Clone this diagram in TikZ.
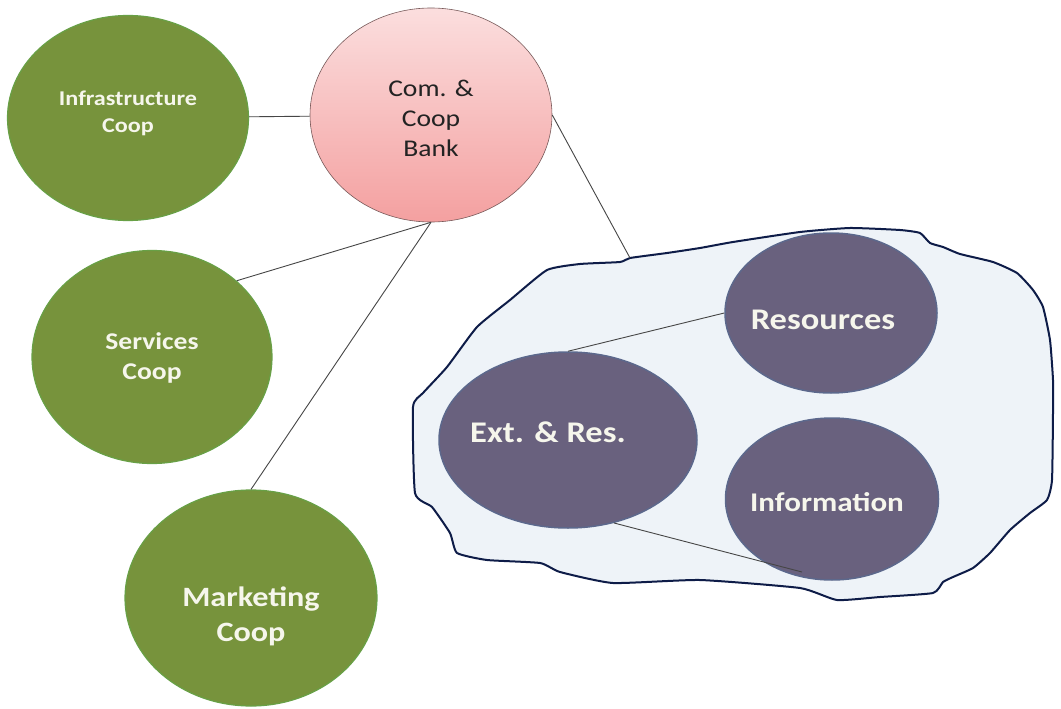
\documentclass[tikz,border=0pt]{standalone}
\usepackage{fontspec}
\setmainfont{Carlito}
\newfontfamily\wfont[FakeStretch=1.15]{Carlito}
\usetikzlibrary{shapes.geometric}
\definecolor{greenfill}{RGB}{119,147,60}
\definecolor{greenline}{RGB}{104,160,70}
\definecolor{pinktop}{RGB}{251,222,222}
\definecolor{pinkbot}{RGB}{244,160,160}
\definecolor{pinkline}{RGB}{120,90,90}
\definecolor{purfill}{RGB}{105,97,126}
\definecolor{purline}{RGB}{92,104,140}
\definecolor{blobfill}{RGB}{238,243,248}
\definecolor{blobline}{RGB}{14,28,72}
\definecolor{conncol}{RGB}{70,70,70}
\definecolor{wtext}{RGB}{246,246,236}
\definecolor{dtext}{RGB}{35,35,35}
\begin{document}
\begin{tikzpicture}[x=1pt,y=-1pt,
  ell/.style={ellipse, inner sep=0pt},
  greenell/.style={ell, fill=greenfill, draw=greenline, line width=1.2pt},
  purell/.style={ell, fill=purfill, draw=purline, line width=1.5pt},
  wtxt/.style={align=center, text=wtext},
  conn/.style={draw=conncol, line width=0.9pt}
]
\useasboundingbox (0,0) rectangle (1061,709);
\fill[white] (0,0) rectangle (1061,709);

% blob
\draw[blobline, fill=blobfill, line width=2pt, line join=round]
  plot[smooth cycle, tension=0.3] coordinates {
  (413,407) (423,393) (447,367) (477,327) (510,300) (547,270) (580,264)
  (620,262) (630,258) (667,253) (700,248) (733,242) (800,232) (850,228)
  (900,230) (920,233) (930,243) (943,247) (960,254) (993,262) (1017,273)
  (1033,290) (1043,307) (1050,340) (1053,380) (1053,413) (1052,480)
  (1047,500) (1030,513) (1010,530) (990,553) (973,568) (953,577) (943,582)
  (933,593) (880,597) (837,600) (800,588) (700,580) (613,583) (560,572)
  (540,563) (487,560) (457,553) (450,533) (432,507) (415,493)};
\coordinate (blobtop) at (630,258);

% nodes
\node[greenell, minimum width=241pt, minimum height=205pt] (infra) at (128,118) {};
\node[ell, top color=pinktop, bottom color=pinkbot, draw=pinkline, line width=0.6pt,
      minimum width=242pt, minimum height=214pt] (com) at (431,115) {};
\node[greenell, minimum width=240pt, minimum height=213pt] (serv) at (152,357) {};
\node[greenell, minimum width=252pt, minimum height=216pt] (mark) at (251,598) {};
\node[purell, minimum width=258pt, minimum height=176pt] (ext) at (568,440) {};
\node[purell, minimum width=212pt, minimum height=160pt] (res) at (831,313) {};
\node[purell, minimum width=213pt, minimum height=162pt] (info) at (832,499) {};

% texts
\node[wtxt, font=\wfont\bfseries\fontsize{21}{27}\selectfont] (infra-t) at (128,113) {Infrastructure\\Coop};
\node[align=center, text=dtext, font=\wfont\fontsize{24}{30}\selectfont] (com-t) at (431,118) {Com. \&\\Coop\\Bank};
\node[wtxt, font=\wfont\bfseries\fontsize{24}{30}\selectfont] (serv-t) at (152,358) {Services\\Coop};
\node[wtxt, font=\wfont\bfseries\fontsize{28}{35}\selectfont] (mark-t) at (251,616) {Marketing\\Coop};
\node[wtxt, font=\wfont\bfseries\fontsize{30}{36}\selectfont] (ext-t) at (548,432) {Ext. \& Res.};
\node[wtxt, font=\wfont\bfseries\fontsize{30}{36}\selectfont] (res-t) at (823,320) {Resources};
\node[wtxt, font=\wfont\bfseries\fontsize{27}{33}\selectfont] (info-t) at (827,502) {Information};

% connectors
\path (info.center) ++(-30,73) coordinate (infoend);
\draw[conn] (infra) -- (com);
\draw[conn] (com.south) -- (serv.42);
\draw[conn] (com.south) -- (mark.north);
\draw[conn] (com.east) -- (blobtop);
\draw[conn] (ext.north) -- (res.west);
\draw[conn] (ext.-61.5) -- (infoend);
\end{tikzpicture}
\end{document}
